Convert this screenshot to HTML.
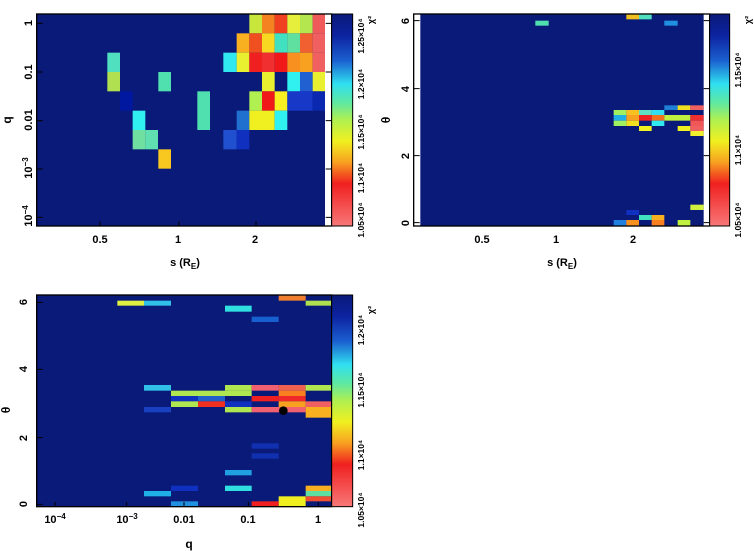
<!DOCTYPE html>
<html><head><meta charset="utf-8"><style>
html,body{margin:0;padding:0;background:#fff;}
svg{display:block;}
text{font-family:"Liberation Sans",sans-serif;font-weight:bold;fill:#000;}
</style></head><body>
<svg width="754" height="551" viewBox="0 0 754 551" xmlns="http://www.w3.org/2000/svg">
<defs>
<linearGradient id="cb" x1="0" y1="0" x2="0" y2="1">
<stop offset="0" stop-color="#0a1a78"/>
<stop offset="0.1" stop-color="#0d22a0"/>
<stop offset="0.22" stop-color="#1a60d0"/>
<stop offset="0.33" stop-color="#30e0f0"/>
<stop offset="0.42" stop-color="#60e8a0"/>
<stop offset="0.5" stop-color="#b0f050"/>
<stop offset="0.6" stop-color="#f0f020"/>
<stop offset="0.7" stop-color="#f8a020"/>
<stop offset="0.8" stop-color="#f02020"/>
<stop offset="1" stop-color="#f87878"/>
</linearGradient>
</defs>

<!-- Panel 1 -->
<g transform="scale(0.33333)">
<rect x="110" y="42" width="865" height="636" fill="#0a1a78"/>
<rect x="748" y="42" width="38" height="58" fill="#c8e63c"/><rect x="786" y="42" width="38" height="58" fill="#f58220"/><rect x="824" y="42" width="38" height="58" fill="#f04020"/><rect x="862" y="42" width="38" height="58" fill="#e6f03c"/><rect x="900" y="42" width="38" height="58" fill="#b4e650"/><rect x="938" y="42" width="37" height="58" fill="#f05a5a"/>
<rect x="710" y="100" width="38" height="58" fill="#f8b020"/><rect x="748" y="100" width="38" height="58" fill="#f05020"/><rect x="786" y="100" width="38" height="58" fill="#f8d820"/><rect x="824" y="100" width="38" height="58" fill="#40e0c0"/><rect x="862" y="100" width="38" height="58" fill="#60e0a0"/><rect x="900" y="100" width="38" height="58" fill="#f06030"/><rect x="938" y="100" width="37" height="58" fill="#f06060"/>
<rect x="322" y="158" width="38" height="58" fill="#50e0c0"/><rect x="670" y="158" width="40" height="58" fill="#30e8f0"/><rect x="710" y="158" width="38" height="58" fill="#e8f030"/><rect x="748" y="158" width="38" height="58" fill="#f02020"/><rect x="786" y="158" width="38" height="58" fill="#f03030"/><rect x="824" y="158" width="38" height="58" fill="#f01818"/><rect x="862" y="158" width="38" height="58" fill="#f89020"/><rect x="900" y="158" width="38" height="58" fill="#f8a020"/><rect x="938" y="158" width="37" height="58" fill="#f06060"/>
<rect x="322" y="216" width="38" height="58" fill="#b0e050"/><rect x="475" y="216" width="38" height="58" fill="#50e0b0"/><rect x="786" y="216" width="38" height="58" fill="#e8f030"/><rect x="862" y="216" width="38" height="58" fill="#30f0f0"/><rect x="900" y="216" width="38" height="58" fill="#2060d0"/><rect x="938" y="216" width="37" height="58" fill="#e8f030"/>
<rect x="360" y="274" width="38" height="58" fill="#0018a0"/><rect x="592" y="274" width="38" height="116" fill="#50e0b0"/><rect x="748" y="274" width="38" height="58" fill="#b0f050"/><rect x="786" y="274" width="38" height="58" fill="#f01818"/><rect x="824" y="274" width="38" height="58" fill="#f8f020"/><rect x="862" y="274" width="76" height="58" fill="#1838c8"/><rect x="938" y="274" width="37" height="58" fill="#0a28b0"/>
<rect x="398" y="332" width="38" height="58" fill="#30f0f0"/><rect x="710" y="332" width="38" height="58" fill="#2070d0"/><rect x="748" y="332" width="76" height="58" fill="#f0f020"/><rect x="824" y="332" width="38" height="58" fill="#30f0f0"/>
<rect x="398" y="390" width="38" height="58" fill="#70e0a0"/><rect x="436" y="390" width="38" height="58" fill="#60e0b0"/><rect x="670" y="390" width="40" height="58" fill="#2050d0"/><rect x="710" y="390" width="38" height="58" fill="#1030c0"/>
<rect x="475" y="448" width="38" height="58" fill="#f8c820"/>
<rect x="110" y="42" width="885" height="636" fill="none" stroke="#000" stroke-width="4"/>
<path d="M110 70h18M110 216h18M110 362h18M110 507h18M110 652h18M995 70h-18M995 216h-18M995 362h-18M995 507h-18M995 652h-18M300 678v-14M537 678v-14M768 678v-14" stroke="#000" stroke-width="3"/>
<rect x="995" y="42" width="63" height="636" fill="url(#cb)" stroke="#000" stroke-width="3"/>
</g>
<text transform="translate(32,23) rotate(-90)" font-size="11" text-anchor="middle">1</text>
<text transform="translate(32,72) rotate(-90)" font-size="11" text-anchor="middle">0.1</text>
<text transform="translate(32,120) rotate(-90)" font-size="11" text-anchor="middle">0.01</text>
<text transform="translate(32,168) rotate(-90)" font-size="11" text-anchor="middle">10<tspan dy="-4" font-size="8">−3</tspan></text>
<text transform="translate(32,216) rotate(-90)" font-size="11" text-anchor="middle">10<tspan dy="-4" font-size="8">−4</tspan></text>
<text transform="translate(11,120) rotate(-90)" font-size="12" text-anchor="middle">q</text>
<text x="100" y="243" font-size="11" text-anchor="middle">0.5</text>
<text x="178" y="243" font-size="11" text-anchor="middle">1</text>
<text x="255" y="243" font-size="11" text-anchor="middle">2</text>
<text x="185" y="266" font-size="11" text-anchor="middle">s (R<tspan font-size="8" dy="3">E</tspan><tspan dy="-3">)</tspan></text>
<text transform="translate(364,120) rotate(-90)" font-size="8.5" text-anchor="middle"><tspan x="-100">1.05×10⁴</tspan><tspan x="-58">1.1×10⁴</tspan><tspan x="-12">1.15×10⁴</tspan><tspan x="36">1.2×10⁴</tspan><tspan x="84">1.25×10⁴</tspan></text>
<text transform="translate(374,20) rotate(-90)" font-size="9" text-anchor="middle">χ²</text>

<!-- Panel 2 -->
<g transform="translate(377,0) scale(0.33333)">
<rect x="130" y="42" width="850" height="636" fill="#0a1a78"/>
<rect x="475" y="62" width="40" height="15" fill="#50e0b0"/>
<rect x="748" y="42" width="38" height="16" fill="#f0c020"/><rect x="786" y="42" width="38" height="16" fill="#50e0c0"/>
<rect x="862" y="62" width="40" height="15" fill="#2090e0"/>
<rect x="862" y="316" width="40" height="14" fill="#2080d8"/><rect x="902" y="316" width="38" height="14" fill="#f0e020"/><rect x="940" y="316" width="40" height="14" fill="#f06060"/>
<rect x="710" y="330" width="38" height="15" fill="#a0f060"/><rect x="748" y="330" width="38" height="15" fill="#f8c020"/><rect x="786" y="330" width="38" height="15" fill="#60e0c0"/><rect x="824" y="330" width="38" height="15" fill="#30e0f0"/>
<rect x="710" y="345" width="38" height="17" fill="#20b0e8"/><rect x="748" y="345" width="38" height="17" fill="#f8a020"/><rect x="786" y="345" width="38" height="17" fill="#f02020"/><rect x="824" y="345" width="38" height="17" fill="#f07020"/><rect x="862" y="345" width="78" height="17" fill="#c0f040"/><rect x="940" y="345" width="40" height="17" fill="#f03030"/>
<rect x="710" y="362" width="38" height="16" fill="#a0f060"/><rect x="748" y="362" width="38" height="16" fill="#f0e020"/><rect x="824" y="362" width="38" height="16" fill="#30e8f0"/><rect x="940" y="362" width="40" height="16" fill="#f05858"/>
<rect x="786" y="378" width="38" height="15" fill="#f0f020"/><rect x="902" y="378" width="38" height="15" fill="#f0f020"/><rect x="940" y="378" width="40" height="15" fill="#f06060"/>
<rect x="940" y="393" width="40" height="15" fill="#f0f030"/>
<rect x="940" y="614" width="40" height="16" fill="#d0f040"/>
<rect x="748" y="630" width="38" height="15" fill="#1030c0"/>
<rect x="786" y="645" width="38" height="15" fill="#40e0c0"/><rect x="824" y="645" width="38" height="15" fill="#f8b020"/>
<rect x="710" y="660" width="38" height="18" fill="#2080e0"/><rect x="748" y="660" width="38" height="18" fill="#f89020"/><rect x="824" y="660" width="38" height="18" fill="#f88020"/><rect x="902" y="660" width="38" height="18" fill="#c0f040"/>
<rect x="110" y="42" width="888" height="636" fill="none" stroke="#000" stroke-width="4"/>
<path d="M110 62h18M110 266h18M110 467h18M110 668h18M998 62h-18M998 266h-18M998 467h-18M998 668h-18" stroke="#000" stroke-width="3"/>
<rect x="998" y="42" width="60" height="636" fill="url(#cb)" stroke="#000" stroke-width="3"/>
</g>
<text transform="translate(409,223) rotate(-90)" font-size="11" text-anchor="middle">0</text>
<text transform="translate(409,156) rotate(-90)" font-size="11" text-anchor="middle">2</text>
<text transform="translate(409,89) rotate(-90)" font-size="11" text-anchor="middle">4</text>
<text transform="translate(409,21) rotate(-90)" font-size="11" text-anchor="middle">6</text>
<text transform="translate(390,120) rotate(-90)" font-size="12" text-anchor="middle">θ</text>
<text x="482" y="243" font-size="11" text-anchor="middle">0.5</text>
<text x="556" y="243" font-size="11" text-anchor="middle">1</text>
<text x="633" y="243" font-size="11" text-anchor="middle">2</text>
<text x="562" y="266" font-size="11" text-anchor="middle">s (R<tspan font-size="8" dy="3">E</tspan><tspan dy="-3">)</tspan></text>
<text transform="translate(741,120) rotate(-90)" font-size="8.5" text-anchor="middle"><tspan x="-100">1.05×10⁴</tspan><tspan x="-30">1.1×10⁴</tspan><tspan x="50">1.15×10⁴</tspan></text>
<text transform="translate(751,20) rotate(-90)" font-size="9" text-anchor="middle">χ²</text>

<!-- Panel 3 -->
<g transform="translate(0,290) scale(0.33333)">
<rect x="110" y="15" width="885" height="635" fill="#0a1a78"/>
<rect x="352" y="32" width="80" height="15" fill="#e0f040"/><rect x="432" y="32" width="81" height="15" fill="#30c0e8"/><rect x="917" y="32" width="78" height="15" fill="#b0e050"/>
<rect x="836" y="15" width="81" height="17" fill="#f08030"/>
<rect x="675" y="47" width="80" height="18" fill="#30e0e0"/>
<rect x="755" y="80" width="81" height="16" fill="#1860d0"/>
<rect x="432" y="285" width="81" height="17" fill="#30c0e8"/><rect x="675" y="285" width="80" height="17" fill="#b0e650"/><rect x="755" y="285" width="81" height="17" fill="#f06070"/><rect x="836" y="285" width="81" height="17" fill="#f06050"/><rect x="917" y="285" width="78" height="17" fill="#b0e650"/>
<rect x="513" y="302" width="162" height="16" fill="#b0e650"/><rect x="675" y="302" width="80" height="16" fill="#b0e650"/><rect x="836" y="302" width="81" height="16" fill="#f88020"/>
<rect x="513" y="318" width="81" height="16" fill="#1030c0"/><rect x="594" y="318" width="81" height="16" fill="#2060c8"/><rect x="755" y="318" width="81" height="16" fill="#f02020"/><rect x="836" y="318" width="81" height="16" fill="#f02828"/>
<rect x="513" y="334" width="81" height="17" fill="#b0e650"/><rect x="594" y="334" width="81" height="17" fill="#f03020"/><rect x="675" y="334" width="80" height="17" fill="#1030c0"/><rect x="836" y="334" width="81" height="17" fill="#f8a020"/><rect x="917" y="334" width="78" height="17" fill="#f06060"/>
<rect x="432" y="351" width="81" height="16" fill="#1840c0"/><rect x="675" y="351" width="80" height="16" fill="#b0e650"/><rect x="755" y="351" width="162" height="16" fill="#f06070"/><rect x="917" y="351" width="78" height="32" fill="#f8b020"/>
<rect x="755" y="460" width="81" height="16" fill="#1030b0"/>
<rect x="755" y="490" width="81" height="16" fill="#1030b0"/>
<rect x="675" y="540" width="80" height="16" fill="#20a0e0"/>
<rect x="513" y="587" width="81" height="16" fill="#1030c0"/><rect x="675" y="587" width="80" height="16" fill="#30e0e0"/><rect x="917" y="587" width="78" height="16" fill="#f8b020"/>
<rect x="432" y="603" width="81" height="16" fill="#20b0e8"/><rect x="917" y="603" width="78" height="16" fill="#60e0a0"/>
<rect x="836" y="619" width="81" height="31" fill="#f0f020"/><rect x="917" y="619" width="78" height="15" fill="#f05030"/>
<rect x="513" y="634" width="81" height="16" fill="#2090e0"/><rect x="755" y="634" width="81" height="16" fill="#f02020"/>
<circle cx="850" cy="362" r="13" fill="#000"/>
<rect x="110" y="15" width="885" height="635" fill="none" stroke="#000" stroke-width="4"/>
<path d="M110 37h18M110 238h18M110 443h18M110 643h18M165 650v-14M380 650v-14M552 650v-14M745 650v-14M955 650v-14" stroke="#000" stroke-width="3"/>
<rect x="995" y="15" width="63" height="635" fill="url(#cb)" stroke="#000" stroke-width="3"/>
</g>
<text transform="translate(27,504) rotate(-90)" font-size="11" text-anchor="middle">0</text>
<text transform="translate(27,438) rotate(-90)" font-size="11" text-anchor="middle">2</text>
<text transform="translate(27,369) rotate(-90)" font-size="11" text-anchor="middle">4</text>
<text transform="translate(27,302) rotate(-90)" font-size="11" text-anchor="middle">6</text>
<text transform="translate(10,410) rotate(-90)" font-size="12" text-anchor="middle">θ</text>
<text x="55" y="523" font-size="11" text-anchor="middle">10<tspan dy="-4" font-size="8">−4</tspan></text>
<text x="127" y="523" font-size="11" text-anchor="middle">10<tspan dy="-4" font-size="8">−3</tspan></text>
<text x="184" y="523" font-size="11" text-anchor="middle">0.01</text>
<text x="248" y="523" font-size="11" text-anchor="middle">0.1</text>
<text x="318" y="523" font-size="11" text-anchor="middle">1</text>
<text x="189" y="548" font-size="12" text-anchor="middle">q</text>
<text transform="translate(364,410) rotate(-90)" font-size="8.5" text-anchor="middle"><tspan x="-100">1.05×10⁴</tspan><tspan x="-45">1.1×10⁴</tspan><tspan x="20">1.15×10⁴</tspan><tspan x="80">1.2×10⁴</tspan></text>
<text transform="translate(374,310) rotate(-90)" font-size="9" text-anchor="middle">χ²</text>
</svg>
</body></html>
